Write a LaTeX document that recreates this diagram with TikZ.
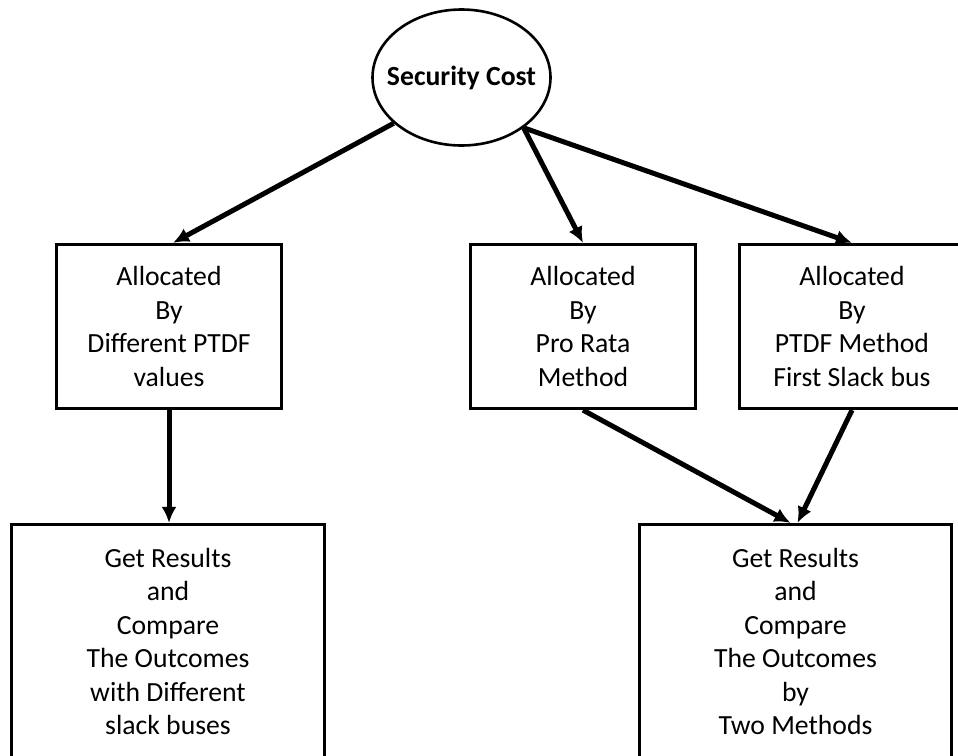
\documentclass[tikz,border=0pt]{standalone}
\usepackage{fontspec}
\setmainfont{Carlito}
\usetikzlibrary{arrows.meta,shapes.geometric}
\begin{document}
\begin{tikzpicture}[x=1pt,y=-1pt,
  box/.style={draw,line width=3.2pt,minimum width=225pt,minimum height=164pt,align=center,inner sep=0pt,font=\fontsize{27.7}{33.5}\selectfont},
  bigbox/.style={draw,line width=3.2pt,minimum height=234pt,align=center,inner sep=0pt,font=\fontsize{27.7}{33.4}\selectfont},
  arr/.style={line width=5pt,-{Latex[length=16pt,width=15pt]}}]
\useasboundingbox (0,0) rectangle (958,755);
\node[ellipse,draw,line width=2.6pt,minimum width=178pt,minimum height=136pt,inner xsep=-20pt,inner ysep=-10pt,font=\bfseries\fontsize{27.7}{33}\selectfont] (sc) at (461.5,77.5) {Security Cost};
\node[box] (b1) at (169,326.5) {Allocated\\By\\Different PTDF\\values};
\node[box] (b2) at (583,326.5) {Allocated\\By\\Pro Rata\\Method};
\node[box] (b3) at (852,326.5) {Allocated\\By\\PTDF Method\\First Slack bus};
\node[bigbox,minimum width=313pt] (r1) at (168,641.5) {Get Results\\and\\Compare\\The Outcomes\\with Different\\slack buses};
\node[bigbox,minimum width=312pt] (r2) at (795.5,641.5) {Get Results\\and\\Compare\\The Outcomes\\by\\Two Methods};
\draw[arr] (sc.214) -- ([xshift=4pt]b1.north);
\draw[arr] (sc.321) -- (b2.north);
\draw[arr] (sc.321) -- (b3.north);
\draw[arr] (b1.south) -- (b1.south |- r1.north);
\draw[arr] (b2.south) -- ([xshift=-5pt]r2.north);
\draw[arr] (b3.south) -- ([xshift=2pt]r2.north);
\end{tikzpicture}
\end{document}
